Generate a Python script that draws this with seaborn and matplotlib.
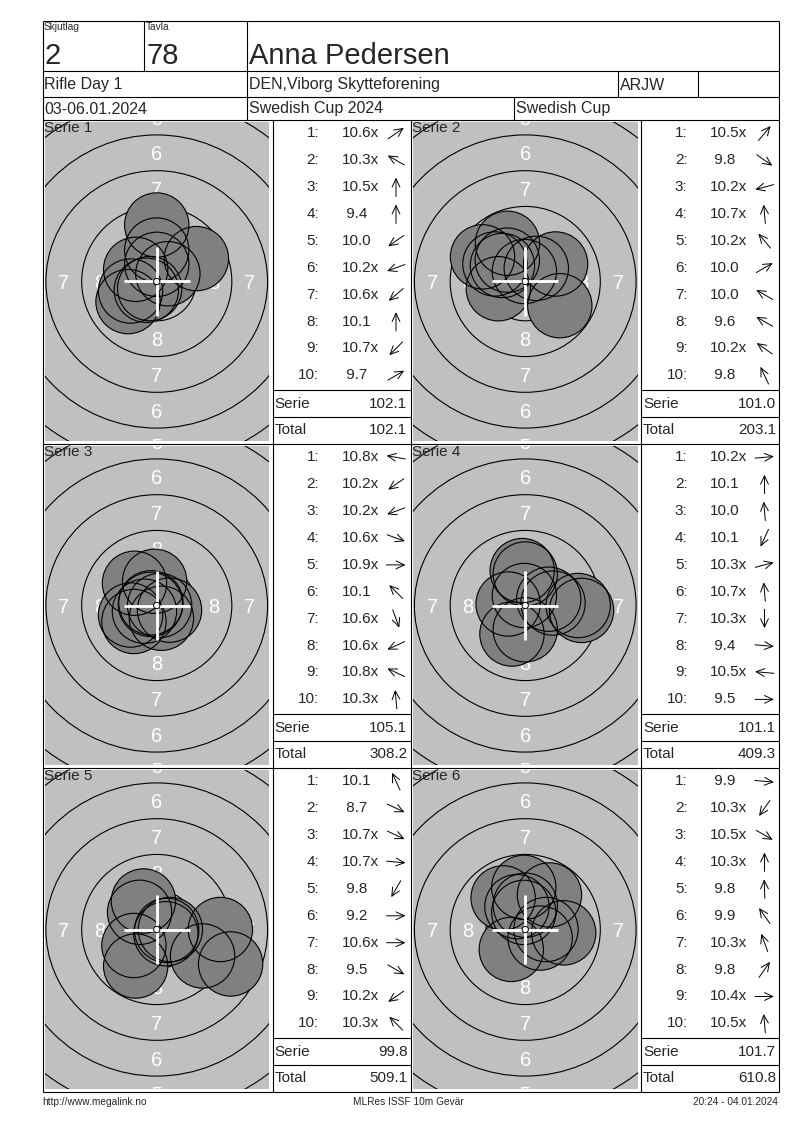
import math
import numpy as np
import pandas as pd
import matplotlib
matplotlib.use("Agg")
import matplotlib.pyplot as plt
from matplotlib.patches import Circle
import seaborn as sns

sns.set_style("white")
plt.rcParams["font.family"] = ["Liberation Sans", "DejaVu Sans"]

# ---------------- data (read from the scorecard) ----------------
relay = "2"
target_no = "78"
shooter = "Anna Pedersen"
event = "Rifle Day 1"
club = "DEN,Viborg Skytteforening"
klass = "ARJW"
dates = "03-06.01.2024"
competition = "Swedish Cup 2024"
cup = "Swedish Cup"
footer_left = "http://www.megalink.no"
footer_mid = "MLRes ISSF 10m Gevär"
footer_right = "20:24 - 04.01.2024"

series_names = ["Serie 1", "Serie 2", "Serie 3", "Serie 4", "Serie 5", "Serie 6"]

scores_1 = ["10.6x", "10.3x", "10.5x", "9.4", "10.0", "10.2x", "10.6x", "10.1", "10.7x", "9.7"]
scores_2 = ["10.5x", "9.8", "10.2x", "10.7x", "10.2x", "10.0", "10.0", "9.6", "10.2x", "9.8"]
scores_3 = ["10.8x", "10.2x", "10.2x", "10.6x", "10.9x", "10.1", "10.6x", "10.6x", "10.8x", "10.3x"]
scores_4 = ["10.2x", "10.1", "10.0", "10.1", "10.3x", "10.7x", "10.3x", "9.4", "10.5x", "9.5"]
scores_5 = ["10.1", "8.7", "10.7x", "10.7x", "9.8", "9.2", "10.6x", "9.5", "10.2x", "10.3x"]
scores_6 = ["9.9", "10.3x", "10.5x", "10.3x", "9.8", "9.9", "10.3x", "9.8", "10.4x", "10.5x"]

# shot direction from the target centre (degrees, 0 = right, 90 = up), read from the arrows
dirs_1 = [35, 150, 90, 90, 215, 200, 220, 90, 225, 30]
dirs_2 = [50, -35, 195, 95, 130, 30, 150, 150, 145, 115]
dirs_3 = [170, 215, 200, -20, 0, 135, -70, 205, 155, 95]
dirs_4 = [5, 90, 95, 245, 15, 95, 270, -5, 175, 0]
dirs_5 = [115, -25, -25, -5, 240, 0, 0, -30, 215, 135]
dirs_6 = [-5, 235, -30, 90, 92, 125, 110, 55, 0, 95]

serie_sums = ["102.1", "101.0", "105.1", "101.1", "99.8", "101.7"]
running_totals = ["102.1", "203.1", "308.2", "409.3", "509.1", "610.8"]

ring_numbers = [9, 8, 7, 6, 5, 4]
label_numbers = [8, 7, 6, 5]

all_scores = [scores_1, scores_2, scores_3, scores_4, scores_5, scores_6]
all_dirs = [dirs_1, dirs_2, dirs_3, dirs_4, dirs_5, dirs_6]

# ---------------- geometry of the ISSF 10m air-rifle target (mm) ----------------
PELLET_R = 2.25


def ring_radius(n):
    return 0.25 + (10 - n) * 2.5


def shot_xy(score, ang):
    v = float(score.rstrip("x"))
    d = (10.9 - v) * 2.5 + 0.2
    a = math.radians(ang)
    return d * math.cos(a), d * math.sin(a)


# ---------------- page layout (pixels) ----------------
W, H = 800, 1130
fig = plt.figure(figsize=(W / 100, H / 100), dpi=100)
fig.patch.set_facecolor("white")
bg = fig.add_axes([0, 0, 1, 1])
bg.set_xlim(0, W)
bg.set_ylim(H, 0)
bg.axis("off")

LW = 0.8


def hline(y, x0, x1):
    bg.plot([x0, x1], [y, y], color="black", lw=LW, solid_capstyle="butt")


def vline(x, y0, y1):
    bg.plot([x, x], [y0, y1], color="black", lw=LW, solid_capstyle="butt")


L, R = 42.5, 778.5
# header grid
for y in [20.5, 70.5, 96.5, 120.0, 444.0, 768.0, 1092.0]:
    hline(y, L, R)
vline(L, 20.5, 1092)
vline(R, 20.5, 1092)
vline(143.5, 20.5, 70.5)
vline(246.5, 20.5, 120)
vline(617.5, 70.5, 96.5)
vline(697.5, 70.5, 96.5)
vline(513.5, 96.5, 120)
for x in [272.5, 410.5, 641.0]:
    vline(x, 120, 1092)

# header texts
bg.text(44, 21.5, "Skjutlag", fontsize=7.3, ha="left", va="top")
bg.text(146, 21.5, "Tavla", fontsize=7.3, ha="left", va="top")
bg.text(44, 64, relay, fontsize=21, ha="left", va="baseline")
bg.text(146, 64, target_no, fontsize=21, ha="left", va="baseline")
bg.text(249, 64, shooter, fontsize=21, ha="left", va="baseline")
bg.text(44, 85, event, fontsize=11.5, ha="left", va="center")
bg.text(249, 85, club, fontsize=11.5, ha="left", va="center")
bg.text(619.5, 85, klass, fontsize=11.5, ha="left", va="center")
bg.text(44, 109, dates, fontsize=11.5, ha="left", va="center")
bg.text(249, 109, competition, fontsize=11.5, ha="left", va="center")
bg.text(516, 109, cup, fontsize=11.5, ha="left", va="center")

# footer
bg.text(42, 1102, footer_left, fontsize=7.3, ha="left", va="center")
bg.text(408, 1102, footer_mid, fontsize=7.3, ha="center", va="center")
bg.text(778, 1102, footer_right, fontsize=7.3, ha="right", va="center")

# ---------------- target panels + score lists ----------------
SCALE = 14.3       # px per mm
GW, GH = 224.5, 319.0
PELLET_S = (2 * PELLET_R * SCALE * 72 / 100) ** 2   # scatter marker area (pt^2)
LIST_FS = 11
ARROW_L = 19

for k in range(6):
    r, c = divmod(k, 2)
    top = 120 + 324 * r
    gx0 = 44.5 + 368.5 * c
    gy0 = top + 2
    ax = fig.add_axes([gx0 / W, 1 - (gy0 + GH) / H, GW / W, GH / H])
    ax.set_facecolor("#c0c0c0")
    hx, hy = GW / 2 / SCALE, GH / 2 / SCALE

    for n in ring_numbers:
        ax.add_patch(Circle((0, 0), ring_radius(n), fill=False, ec="black", lw=LW, zorder=1))
    for n in label_numbers:
        rr = ring_radius(n) - 1.25
        spots = [(0, rr), (0, -rr)]
        if rr + 0.2 < hx:
            spots += [(rr, 0), (-rr, 0)]
        for px, py in spots:
            ax.text(px, py, str(n), color="white", fontsize=14.5, ha="center",
                    va="center_baseline", zorder=2, clip_on=True)

    pts = [shot_xy(s, a) for s, a in zip(all_scores[k], all_dirs[k])]
    df = pd.DataFrame({"x": [p[0] for p in pts], "y": [p[1] for p in pts]})
    sns.scatterplot(data=df, x="x", y="y", s=PELLET_S, color="#808080",
                    edgecolor="none", linewidth=0, legend=False, ax=ax, zorder=3)
    for x, y in zip(df["x"], df["y"]):
        ax.add_patch(Circle((x, y), PELLET_R, fill=False, ec="black", lw=LW, zorder=4))

    ax.plot([-2.3, 2.3], [0, 0], color="white", lw=2.0, zorder=5, solid_capstyle="butt")
    ax.plot([0, 0], [-2.4, 2.4], color="white", lw=2.0, zorder=5, solid_capstyle="butt")
    ax.add_patch(Circle((0, 0), 0.22, fc="white", ec="black", lw=0.7, zorder=6))

    ax.set_xlim(-hx, hx)
    ax.set_ylim(-hy, hy)
    ax.set(xlabel="", ylabel="", xticks=[], yticks=[])
    for sp in ax.spines.values():
        sp.set_visible(False)

    fig.text(44 / W + (368.5 * c) / W, 1 - (top + 8.5) / H, series_names[k],
             fontsize=11, ha="left", va="center", zorder=10)

    # score list
    lx = 272.5 + 368.5 * c
    hline(top + 270, lx, lx + 138)
    hline(top + 297, lx, lx + 138)
    for i, (s, a) in enumerate(zip(all_scores[k], all_dirs[k])):
        yy = top + 13.3 + 26.9 * i
        bg.text(lx + 46.5, yy, f"{i + 1}:", fontsize=LIST_FS, ha="right", va="center")
        lab = s if s.startswith("10") else " " + s
        bg.text(lx + 69, yy, lab, fontsize=LIST_FS, ha="left", va="center")
        cx = lx + 123.5
        dx = ARROW_L / 2 * math.cos(math.radians(a))
        dy = ARROW_L / 2 * math.sin(math.radians(a))
        bg.annotate("", xy=(cx + dx, yy - dy), xytext=(cx - dx, yy + dy),
                    arrowprops=dict(arrowstyle="->,head_length=0.6,head_width=0.28",
                                    lw=0.7, color="black", shrinkA=0, shrinkB=0,
                                    mutation_scale=10))
    bg.text(lx + 2, top + 283.7, "Serie", fontsize=LIST_FS, ha="left", va="center")
    bg.text(lx + 135, top + 283.7, serie_sums[k], fontsize=LIST_FS, ha="right", va="center")
    bg.text(lx + 2, top + 309.7, "Total", fontsize=LIST_FS, ha="left", va="center")
    bg.text(lx + 135, top + 309.7, running_totals[k], fontsize=LIST_FS, ha="right", va="center")

fig.savefig("out.png", dpi=100)
